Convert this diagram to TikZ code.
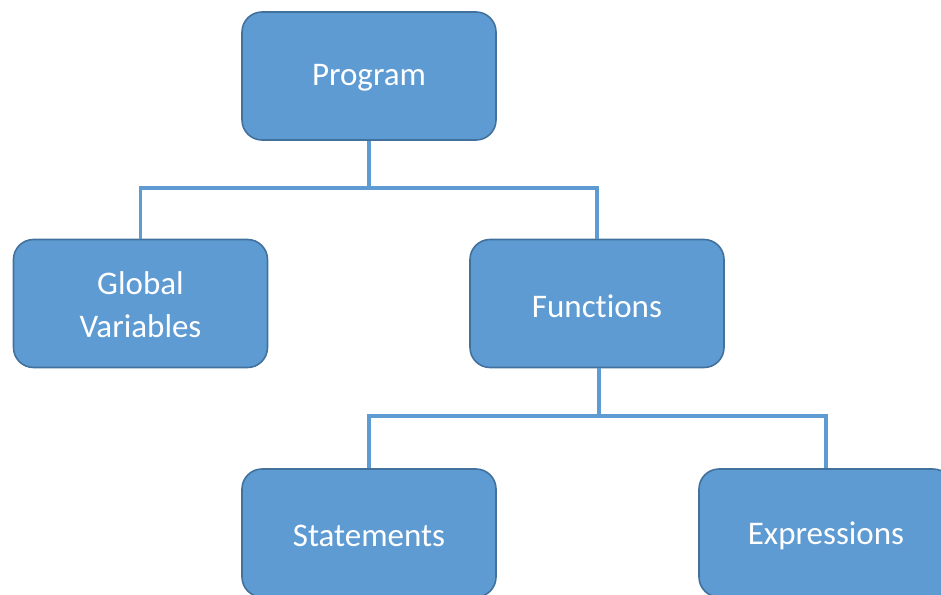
\documentclass[tikz,border=0pt]{standalone}
\usepackage{fontspec}
\setmainfont{Carlito}[Ligatures=CommonOff]
\definecolor{boxfill}{HTML}{5E9BD3}
\definecolor{boxline}{HTML}{41719C}
\definecolor{connline}{HTML}{5E9BD3}
\begin{document}
\begin{tikzpicture}[x=1pt,y=-1pt,
  box/.style={draw=boxline, line width=1.6pt, fill=boxfill, rounded corners=20pt,
    minimum width=254pt, minimum height=128pt, inner sep=0pt},
  lbl/.style={text=white, font=\fontsize{33}{43}\selectfont, align=center, inner sep=0pt},
  conn/.style={draw=connline, line width=3.5pt}]
\useasboundingbox (0,0) rectangle (941,594);
\clip (0,0) rectangle (941,594);
\node[box] (prog) at (369,76) {};
\node[box] (gv) at (140.5,303.5) {};
\node[box] (fn) at (597,303.5) {};
\node[box] (st) at (369,533) {};
\node[box] (ex) at (826,533) {};
\node[lbl] (progt) at ([yshift=-2pt]prog.center) {Program};
\node[lbl] (gvt) at ([yshift=-1.5pt]gv.center) {Global\\Variables};
\node[lbl] (fnt) at ([yshift=-2.5pt]fn.center) {Functions};
\node[lbl] (stt) at ([yshift=-2.5pt]st.center) {Statements};
\node[lbl] (ext) at ([yshift=-2.5pt]ex.center) {Expressions};
\coordinate (j1) at (369,188);
\coordinate (j2) at (599,416);
\draw[conn] (prog.south) -- (j1);
\draw[conn] (gv.north) |- (j1) -| (fn.north);
\draw[conn] (fn.south -| j2) -- (j2);
\draw[conn] (st.north) |- (j2) -| (ex.north);
\end{tikzpicture}
\end{document}
